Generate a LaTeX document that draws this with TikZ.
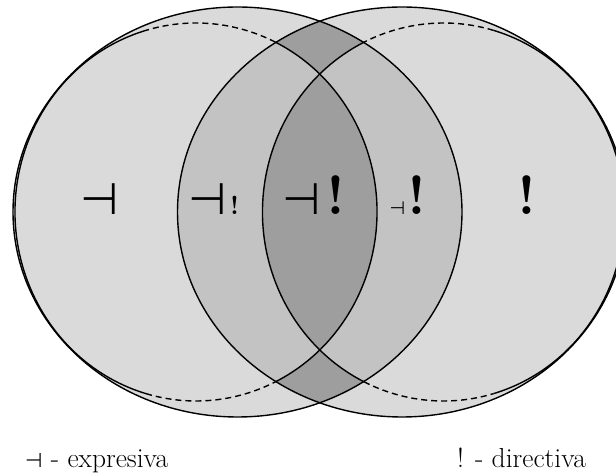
\documentclass[tikz,border=0pt]{standalone}
\usepackage{fontspec}
\usepackage{xcolor}
\usepackage{tikz}
\usetikzlibrary{positioning, calc}
\newfontfamily\symfont{DejaVu Sans}
\definecolor{lightfill}{gray}{0.855}
\definecolor{midfill}{gray}{0.765}
\definecolor{darkfill}{gray}{0.62}
\tikzstyle{outline} = [line width=1.4pt, draw=black]
\tikzstyle{hidden}  = [line width=1.4pt, draw=black, dash pattern=on 6pt off 4pt]
\tikzstyle{sign}    = [inner sep=0pt, anchor=base]
\tikzstyle{legend}  = [inner sep=0pt, anchor=base west, font=\fontsize{27.5}{30}\selectfont]
\newcommand{\expsign}[1]{{\fontsize{#1}{#1}\selectfont\symfont ⊣}}
\newcommand{\dirsign}[1]{{\fontsize{#1}{#1}\selectfont\bfseries !}}

\begin{document}
\begin{tikzpicture}[x=1pt, y=1pt]
\useasboundingbox (0,0) rectangle (616,476);

\coordinate (bigl) at (237.5,264);
\coordinate (bigr) at (402,264);
\coordinate (innl) at (196,264);
\coordinate (innr) at (443.5,264);

% Shaded regions
\fill[lightfill] (bigl) ellipse [x radius=224.5, y radius=205];
\fill[lightfill] (bigr) ellipse [x radius=224.5, y radius=205];
\begin{scope}
\clip (bigl) ellipse [x radius=224.5, y radius=205];
\clip (bigr) ellipse [x radius=224.5, y radius=205];
\fill[darkfill] (bigr) ellipse [x radius=224.5, y radius=205];
\fill[midfill, even odd rule] (innl) ellipse [x radius=181, y radius=189]
  (innr) ellipse [x radius=181, y radius=189];
\end{scope}

% Outer ellipses
\draw[outline] (bigl) ellipse [x radius=224.5, y radius=205];
\draw[outline] (bigr) ellipse [x radius=224.5, y radius=205];

% Inner left ellipse
\draw[outline] ($(innl)+(-64:181 and 189)$) arc [start angle=-64, end angle=64, x radius=181, y radius=189];
\draw[hidden] ($(innl)+(64:181 and 189)$) arc [start angle=64, end angle=106, x radius=181, y radius=189];
\draw[outline] ($(innl)+(106:181 and 189)$) arc [start angle=106, end angle=254, x radius=181, y radius=189];
\draw[hidden] ($(innl)+(254:181 and 189)$) arc [start angle=254, end angle=296, x radius=181, y radius=189];

% Inner right ellipse
\draw[outline] ($(innr)+(116:181 and 189)$) arc [start angle=116, end angle=244, x radius=181, y radius=189];
\draw[hidden] ($(innr)+(74:181 and 189)$) arc [start angle=74, end angle=116, x radius=181, y radius=189];
\draw[outline] ($(innr)+(-74:181 and 189)$) arc [start angle=-74, end angle=74, x radius=181, y radius=189];
\draw[hidden] ($(innr)+(244:181 and 189)$) arc [start angle=244, end angle=286, x radius=181, y radius=189];

% Region labels
\node (expr) [sign] at (100,261) {\expsign{44}};
\node (exprdir) [sign] at (214,261) {\expsign{44}\kern3pt\dirsign{26}};
\node (both) [sign] at (314,261) {\expsign{44}\kern5pt\dirsign{55}};
\node (direxpr) [sign] at (408,261) {\expsign{18}\kern2pt\dirsign{55}};
\node (dir) [sign] at (527,261) {\dirsign{55}};

% Legend
\node (explegend) [legend] at (25,8) {\expsign{20} - expresiva};
\node (dirlegend) [legend] at (457,8) {! - directiva};

\end{tikzpicture}
\end{document}
